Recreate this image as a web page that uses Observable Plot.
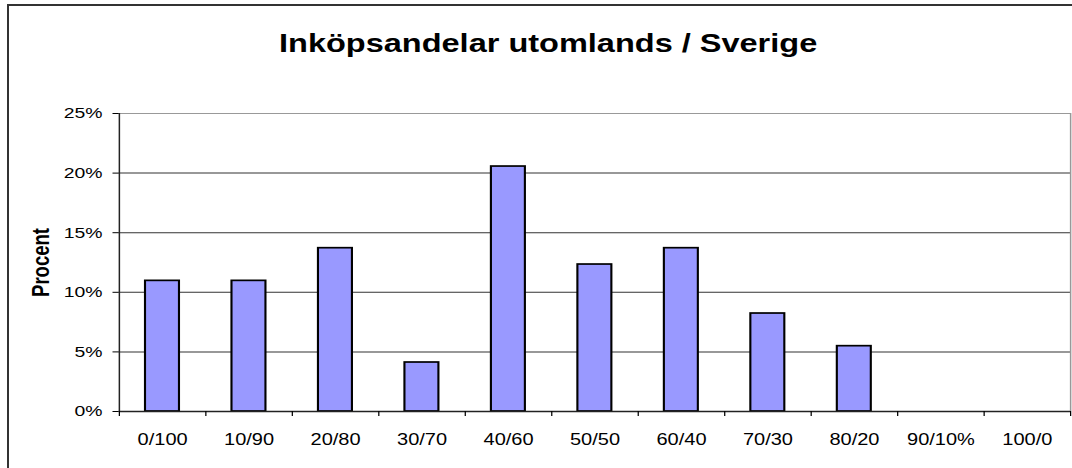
<!DOCTYPE html>
<html><head><meta charset="utf-8">
<script src="https://cdn.jsdelivr.net/npm/d3@7"></script>
<script src="https://cdn.jsdelivr.net/npm/@observablehq/plot@0.6"></script>
<style>
html,body{margin:0;padding:0;background:#fff;overflow:hidden;width:1072px;height:468px;}
#frame{position:absolute;left:7px;top:4px;width:1200px;height:600px;border-left:2px solid #333;border-top:2px solid #333;}
#stretch{position:absolute;left:0;top:0;width:858px;height:468px;transform:scaleX(1.25);transform-origin:0 0;}
#title{position:absolute;left:0;top:30px;width:877px;text-align:center;font:bold 26px "Liberation Sans",Arial,sans-serif;line-height:26px;color:#000;white-space:nowrap;}
#chart{position:absolute;left:0;top:0;}
</style>
</head><body>
<div id="frame"></div>
<div id="stretch">
  <div id="chart"></div>
  <div id="title">Inköpsandelar utomlands / Sverige</div>
</div>
<script>
const categories = ["0/100","10/90","20/80","30/70","40/60","50/50","60/40","70/30","80/20","90/10%","100/0"];
const shares = [10.96,10.96,13.70,4.11,20.55,12.33,13.70,8.22,5.48,0,0];
const yTicks = [0,5,10,15,20,25];
const gridValues = [5,10,15,20];
const yLabel = "Procent";

const table = categories.map((c, i) => ({c, i, v: shares[i]}));
const labelPos = categories.map((_, i) => i + 0.5);
const boundaryPos = d3.range(categories.length + 1);

const chart = Plot.plot({
  width: 858,
  height: 468,
  marginLeft: 95,
  marginRight: 2,
  marginTop: 113,
  marginBottom: 57,
  style: {fontFamily: '"Liberation Sans", Arial, sans-serif', fontSize: "15.5px", color: "#000", background: "transparent"},
  x: {domain: [0, categories.length]},
  y: {domain: [0, 25]},
  marks: [
    Plot.ruleY(gridValues, {stroke: "#333", strokeWidth: 1}),
    Plot.ruleY([25], {stroke: "#999", strokeWidth: 1.2}),
    Plot.ruleX([categories.length], {stroke: "#999", strokeWidth: 1.2}),
    Plot.rect(table.filter(d => d.v > 0), {x1: "i", x2: d => d.i + 1, y1: 0, y2: "v", fill: "#9999ff", stroke: "#000", strokeWidth: 1.7, insetLeft: 21, insetRight: 21}),
    Plot.ruleY([0], {stroke: "#222", strokeWidth: 1.6}),
    Plot.ruleX([0], {stroke: "#222", strokeWidth: 1.2}),
    Plot.axisY({ticks: yTicks, tickFormat: d => d + "%", tickSize: 5, tickPadding: 8.5, label: null}),
    Plot.axisX({ticks: labelPos, tickFormat: d => categories[Math.floor(d)], tickSize: 0, tickPadding: 22, fontSize: 16, label: null}),
    Plot.axisX({ticks: boundaryPos, tickFormat: () => "", tickSize: 5, label: null}),
    Plot.text([yLabel], {frameAnchor: "left", textAnchor: "middle", text: d => d, rotate: -90, dx: -62, fontWeight: "bold", fontSize: 18.5})
  ]
});
document.getElementById("chart").appendChild(chart);
</script>
</body></html>
